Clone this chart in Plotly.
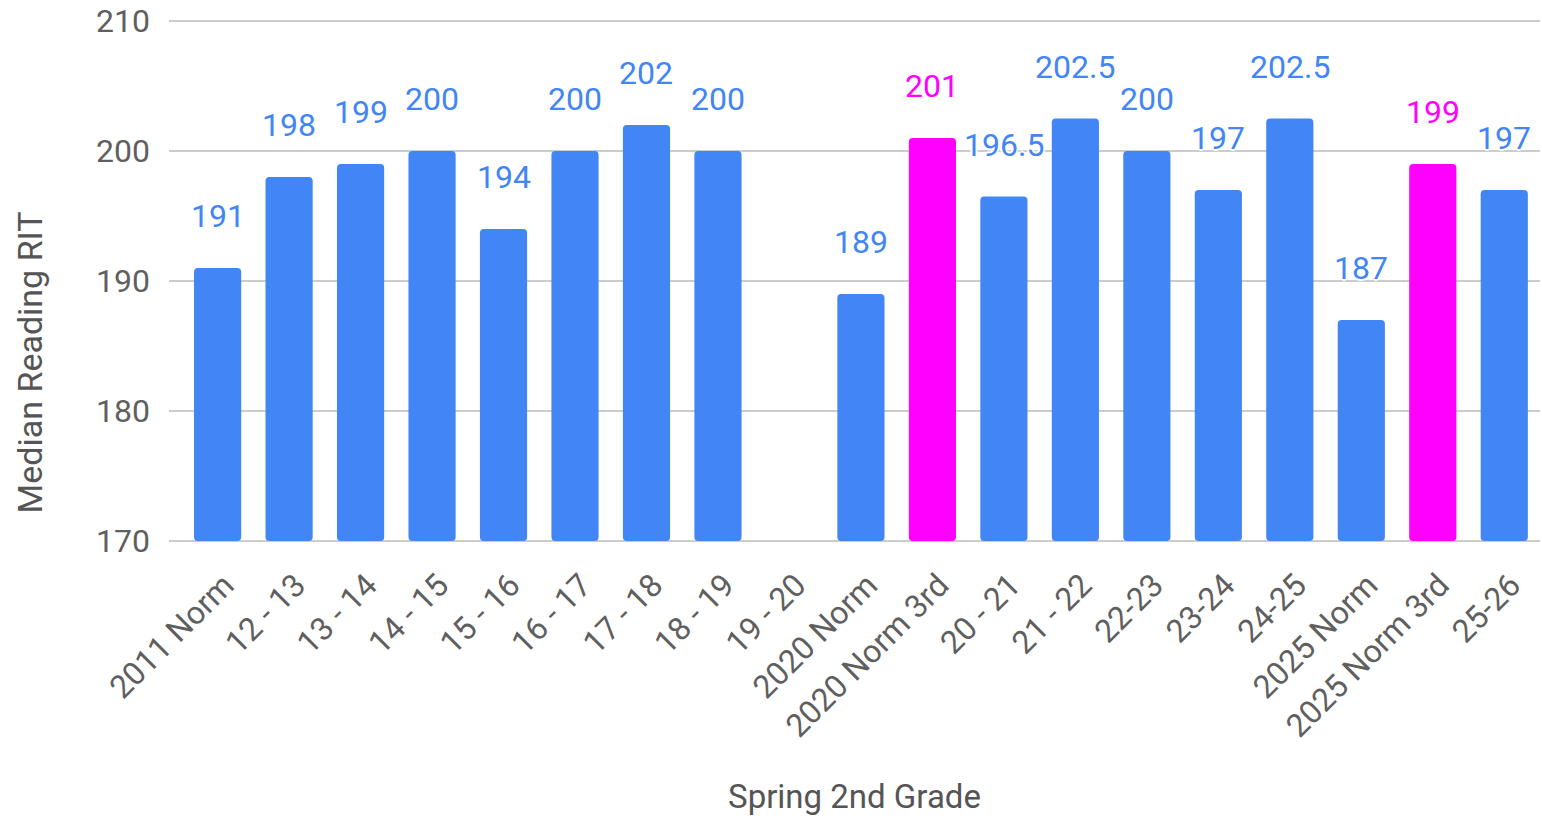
import plotly.graph_objects as go

categories = ["2011 Norm", "12 - 13", "13 - 14", "14 - 15", "15 - 16", "16 - 17", "17 - 18",
              "18 - 19", "19 - 20", "2020 Norm", "2020 Norm 3rd", "20 - 21", "21 - 22",
              "22-23", "23-24", "24-25", "2025 Norm", "2025 Norm 3rd", "25-26"]
values = [191, 198, 199, 200, 194, 200, 202, 200, None, 189, 201, 196.5, 202.5,
          200, 197, 202.5, 187, 199, 197]
highlight = ["2020 Norm 3rd", "2025 Norm 3rd"]
y_ticks = [170, 180, 190, 200, 210]

BLUE = "#4285F4"
MAGENTA = "#FF00FF"
colors = [MAGENTA if c in highlight else BLUE for c in categories]
HALO = "2px 0 1px white, -2px 0 1px white, 0 2px 1px white, 0 -2px 1px white"

fig = go.Figure()
fig.add_trace(go.Bar(
    x=categories, y=[v - 170 if v is not None else None for v in values], base=170,
    marker=dict(color=colors, cornerradius=4, line=dict(width=0)),
    width=0.66, hoverinfo="skip",
))

for c, v, col in zip(categories, values, colors):
    if v is None:
        continue
    txt = f"{v:g}"
    fig.add_annotation(x=c, y=v, text=txt, showarrow=False, yshift=52,
                       font=dict(family="Roboto", size=32, color=col, shadow=HALO),
                       xanchor="center", yanchor="middle")

# y-axis title placed like the original (centred lower than the plot area)
fig.add_annotation(xref="paper", yref="paper", x=0, y=0.344, xshift=-139,
                   text="Median Reading RIT", textangle=-90, showarrow=False,
                   xanchor="center", yanchor="middle",
                   font=dict(family="Roboto", size=34, color="#555555"))

fig.update_layout(
    width=1542, height=816,
    margin=dict(l=169, r=2, t=20, b=274),
    paper_bgcolor="white", plot_bgcolor="white",
    showlegend=False,
    font=dict(family="Roboto", size=32, color="#5f5f5f"),
    xaxis=dict(
        range=[-0.68, 18.5], tickangle=-45, showgrid=False, zeroline=False,
        showline=False, ticks="", ticklabelstandoff=17, ticklabelshift=7,
        tickfont=dict(size=32, color="#5f5f5f"),
        title=dict(text="Spring 2nd Grade", font=dict(size=33, color="#555555"), standoff=44),
        automargin=False,
    ),
    yaxis=dict(
        range=[169.92, 210.08], tickvals=y_ticks, showgrid=True, gridcolor="#cccccc", gridwidth=2,
        zeroline=False, showline=False, ticks="", ticklabelstandoff=18,
        ticklabeloverflow="allow",
        tickfont=dict(size=32, color="#5f5f5f"),
        automargin=False,
    ),
)

# remove the default 8px page margin so the figure fills the window exactly
fig.write_html("out.html", config={"displayModeBar": False},
               post_script="document.body.style.margin='0';")
